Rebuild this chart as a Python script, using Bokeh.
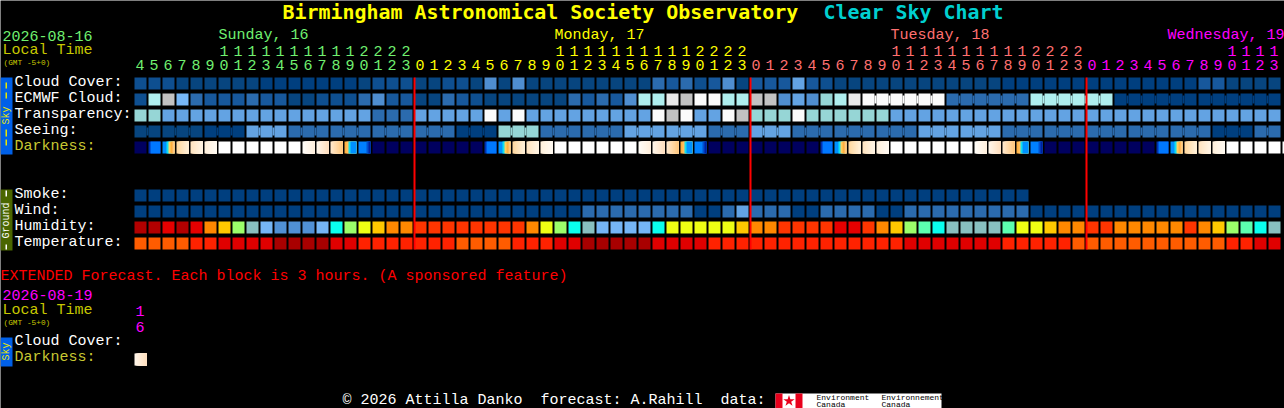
import math
from bokeh.plotting import figure
from bokeh.models import Range1d
from bokeh.core.properties import value
from bokeh.embed import file_html
from bokeh.resources import INLINE

W, H = 1284, 408
FONT = "Liberation Mono"
TITLE_FONT = "DejaVu Sans Mono"

title_main = "Birmingham Astronomical Society Observatory"
title_chart = "Clear Sky Chart"
day_names = ["Sunday, 16", "Monday, 17", "Tuesday, 18", "Wednesday, 19"]
day_colors = ["#70f070", "#ffff00", "#ff7070", "#ff00ff"]
day_lengths = [20, 24, 24, 14]
day_first_hour = [4, 0, 0, 0]
row_labels_sky = ["Cloud Cover:", "ECMWF Cloud:", "Transparency:", "Seeing:"]
row_labels_ground = ["Smoke:", "Wind:", "Humidity:", "Temperature:"]

sky_colors = ["#003f7f", "#07457f", "#0e4f90", "#17589c", "#2b6bae", "#4f8ed0", "#63a3e3", "#77b7f7",
              "#96d6d6", "#afeeee", "#c2c2c2", "#e9e9e9", "#fbfbfb"]
humidity_colors = ["#b20000", "#e60000", "#ff3500", "#ff8800", "#ffc800", "#eeff14", "#9bff6a", "#5cffb0",
                   "#0affee", "#88c0c0", "#75b5f5", "#5090d5"]
temp_colors = ["#ff5c00", "#ff2200", "#e00000", "#a80000"]

cloud_cover = [2, 2, 2, 1, 1, 1, 1, 1, 1, 0, 0, 0, 0, 0, 0, 0, 1, 2, 2, 2,
               1, 1, 2, 2, 1, 5, 1, 5, 1, 1, 1, 1, 1, 1, 1, 1, 1, 4, 3, 4, 2, 3, 5, 1,
               3, 3, 3, 6, 3, 2, 1, 1,
               1, 1, 1, 1, 1, 1, 1, 1, 1, 1, 0, 0, 0, 0, 0, 0, 0, 0, 0, 0, 0, 0, 0, 0,
               3, 3, 1, 1, 1, 1]
ecmwf_cloud = [2, 9, 10, 7, 4, 3, 3, 3, 4, 3, 3, 1, 1, 2, 2, 2, 4, 5, 3, 3,
               1, 1, 4, 3, 2, 1, 1, 1, 1, 1, 1, 4, 3, 4, 3, 5, 9, 9, 11, 10, 12, 12, 9, 9,
               10, 10, 5, 6, 5, 8, 9, 11,
               12, 12, 12, 12, 12, 12, 4, 4, 4, 4, 4, 4, 9, 9, 9, 9, 9, 9,
               0, 0, 0, 0, 0, 0, 0, 0, 0, 0, 0, 0]
ecmwf_groups = [1] * 52 + [6, 6, 6, 6, 6]
transparency = [8, 8, 6, 6, 6, 6, 6, 6, 6, 6, 6, 6, 6, 6, 6, 6, 6, 4, 4, 4,
                6, 6, 6, 6, 6, 12, 6, 12, 6, 6, 6, 6, 6, 6, 6, 6, 6, 12, 10, 12, 6, 6, 12, 10,
                8, 8, 8, 12, 8, 8, 8, 8,
                8, 8, 6, 6, 6, 6, 6, 6, 6, 6, 6, 6, 6, 6, 6, 6, 6, 6, 6, 6, 6, 6, 6, 6, 6, 6, 6, 6, 6, 6]
seeing_blocks = [1, 1, 0, 6, 4, 4, 4, 4, 0, 8, 4, 4, 6, 6, 4, 6, 4, 4, 4, 6, 6, 4, 4, 4, 4, 4, 0, 4]
seeing_groups = [2] + [3] * 26 + [2]
darkness = ["n", "a", "b", "c", "d", "e", "w", "w", "w", "w", "w", "w", "f", "g", "h", "i", "j", "n", "n", "n",
            "n", "n", "n", "n", "n", "a", "b", "c", "d", "e", "w", "w", "w", "w", "w", "w", "f", "g", "h", "i", "j", "n", "n", "n",
            "n", "n", "n", "n", "n", "a", "b", "c", "d", "e", "w", "w", "w", "w", "w", "w", "f", "g", "h", "i", "j", "n", "n", "n",
            "n", "n", "n", "n", "n", "a", "b", "c", "d", "e", "w", "w", "w", "w", "w", "w"]
darkness_extended = ["g"]
smoke = [0] * 64
wind = [0] * 32 + [4, 4, 4, 4, 4, 4, 4, 4, 0, 0, 4, 6, 4, 4, 4, 0, 0, 4, 4, 4, 4, 0, 0,
                   4, 4, 4, 4, 4, 4, 4, 4, 4] + [0] * 18
humidity = [0, 0, 1, 0, 1, 3, 4, 6, 9, 10, 11, 11, 11, 10, 8, 6, 5, 4, 3, 3,
            2, 2, 2, 2, 2, 2, 2, 2, 3, 5, 6, 8, 9, 10, 10, 10, 10, 8, 5, 5, 5, 5, 5, 4,
            3, 3, 2, 2, 2, 2, 1, 1,
            2, 3, 4, 6, 7, 8, 9, 9, 9, 9, 7, 5, 5, 4, 3, 3,
            2, 2, 3, 3, 3, 3, 3, 2, 3, 4, 6, 7, 8, 9]
temperature = [0, 0, 0, 0, 1, 1, 2, 2, 2, 2, 3, 3, 3, 3, 2, 2, 1, 1, 1, 1,
               1, 1, 1, 0, 0, 0, 0, 1, 1, 1, 2, 2, 3, 3, 3, 3, 3, 2, 2, 2, 2, 1, 1, 1,
               1, 1, 1, 1, 1, 1, 1, 1,
               1, 1, 1, 2, 2, 2, 2, 2, 2, 2, 1, 1, 1, 1, 1,
               0, 0, 0, 0, 0, 0, 0, 0, 0, 0, 0,
               1, 1, 2, 2]

# Each darkness block is a 12-slice strip: (colour, slices) runs or (from, to) fades.
dark_runs = {
    "n": [("#00005f", 12)],
    "w": [("#ffffff", 12)],
    "a": [("#0030b0", 2), ("#0078ff", 10)],
    "b": [("#0090ff", 4), ("#10e0f0", 2), ("#ffd060", 2), ("#ffb040", 2), ("#ffc070", 1), ("#ffd090", 1)],
    "i": [("#ffb040", 2), ("#ffc060", 2), ("#10e0f0", 2), ("#0090ff", 6)],
    "j": [("#0080ff", 8), ("#0050d0", 2), ("#0020a0", 2)],
}
dark_fades = {
    "c": ("#ffd8a0", "#fff0d8"), "d": ("#ffe4c0", "#fff4e4"), "e": ("#fff0dc", "#fffaf2"),
    "f": ("#fffdf8", "#fff0de"), "g": ("#fff6ea", "#ffe0c0"), "h": ("#ffe8cc", "#ffc880"),
}

CELL, PITCH, X0 = 12, 14, 134


def mix(a, b, t):
    ca = [int(a[i:i + 2], 16) for i in (1, 3, 5)]
    cb = [int(b[i:i + 2], 16) for i in (1, 3, 5)]
    return "#%02x%02x%02x" % tuple(round(p + (q - p) * t) for p, q in zip(ca, cb))


def strip(code):
    if code in dark_fades:
        a, b = dark_fades[code]
        return [(mix(a, b, i / 11), 1) for i in range(12)]
    return dark_runs[code]


p = figure(width=W, height=H, x_range=Range1d(0, W), y_range=Range1d(H, 0),
           output_backend="svg", toolbar_location=None, min_border=0,
           x_axis_location=None, y_axis_location=None,
           background_fill_color="black", border_fill_color="black",
           outline_line_color=None)
p.xgrid.visible = False
p.ygrid.visible = False


def boxes(l, r, t, b, c):
    p.quad(left=l, right=r, top=t, bottom=b, fill_color=c, line_color=None)


def row(vals, palette, y, groups=None):
    l = [X0 + PITCH * i for i in range(len(vals))]
    boxes(l, [v + CELL for v in l], [y] * len(l), [y + CELL] * len(l), [palette[v] for v in vals])
    if groups:
        bl, br, bc, i = [], [], [], 0
        for g in groups:
            for k in range(i, i + g - 1):
                bl.append(l[k] + CELL)
                br.append(l[k + 1])
                bc.append(palette[vals[k]])
            i += g
        if bl:
            boxes(bl, br, [y + 2] * len(bl), [y + 10] * len(bl), bc)


def darkrow(codes, y):
    l, r, c = [], [], []
    for i, code in enumerate(codes):
        cell = X0 + PITCH * i
        j = 0
        for col, n in strip(code):
            # every slice runs on to the block's right edge, the next one paints over it
            l.append(cell + j)
            r.append(cell + CELL)
            c.append(col)
            j += n
    boxes(l, r, [y] * len(l), [y + CELL] * len(l), c)


def text(x, y, s, color, size=15, style="normal", angle=0, align="left", font=FONT):
    p.text(x=[x], y=[y], text=[s], text_color=color, text_font=value(font), text_font_size=f"{size}px",
           text_font_style=style, text_baseline="middle", text_align=align, angle=angle)


row(cloud_cover, sky_colors, 77)
row(ecmwf_cloud, sky_colors, 93, ecmwf_groups)
row(transparency, sky_colors, 109)
seeing = []
for v, g in zip(seeing_blocks, seeing_groups):
    seeing += [v] * g
row(seeing, sky_colors, 125, seeing_groups)
darkrow(darkness, 141)
row(smoke, sky_colors, 189)
row(wind, sky_colors, 205)
row(humidity, humidity_colors, 221)
row(temperature, temp_colors, 237)
darkrow(darkness_extended, 353)

# day boundaries
i = 0
ends = []
for n in day_lengths[:-1]:
    i += n
    ends.append(X0 + PITCH * i)
boxes([e - 1 for e in ends], [e + 1 for e in ends], [77] * 3, [249] * 3, ["#ff0000"] * 3)

# title
text(282, 11.5, title_main, "#ffff00", 19.93, "bold", font=TITLE_FONT)
text(823, 11.5, title_chart, "#00d0d0", 19.93, "bold", font=TITLE_FONT)

# date header
text(2, 35, "2026-08-16", day_colors[0])
text(2, 50, "Local Time", "#c8c800")
text(3, 62, "(GMT -5+0)", "#c8c800", 7.8)
for name, c, x in zip(day_names, day_colors, [218, 554, 890, 1167]):
    text(x, 35, name, c)

i = 0
for n, h0, c in zip(day_lengths, day_first_hour, day_colors):
    for k in range(n):
        h = h0 + k
        x = X0 + PITCH * i + 5.5
        if h >= 10:
            text(x, 50, str(h // 10), c, align="center")
        text(x, 64, str(h % 10), c, align="center")
        i += 1

# row labels
for y, s in zip([82, 98, 114, 130], row_labels_sky):
    text(14, y, s, "#ffffff")
text(14, 146, "Darkness:", "#c8c832")
for y, s in zip([194, 210, 226, 242], row_labels_ground):
    text(14, y, s, "#ffffff")

# side tabs
boxes([0, 0, 0], [12, 12, 12], [77, 189, 337], [154, 250, 366], ["#0060e8", "#4a6600", "#0060e8"])
text(6, 115, "Sky", "#e8e800", 10, angle=math.pi / 2, align="center")
boxes([5, 5, 5, 5], [6.5, 6.5, 6.5, 6.5], [82, 92, 129, 139], [88, 98, 136, 145], ["#e8e800"] * 4)
text(6, 220, "Ground", "#ffffff", 10, angle=math.pi / 2, align="center")
boxes([5, 5], [6.5, 6.5], [190, 244], [196, 249], ["#ffffff"] * 2)
text(6, 351, "Sky", "#e8e800", 10, angle=math.pi / 2, align="center")

# extended block
text(0, 276, "EXTENDED Forecast. Each block is 3 hours. (A sponsored feature)", "#ff0000")
text(2, 294, "2026-08-19", "#ff00ff")
text(2, 310, "Local Time", "#c8c800")
text(3, 322, "(GMT -5+0)", "#c8c800", 7.8)
text(139.5, 310, "1", "#ff00ff", align="center")
text(139.5, 326, "6", "#ff00ff", align="center")
text(14, 341, "Cloud Cover:", "#ffffff")
text(14, 357, "Darkness:", "#c8c832")

# footer
text(342, 400, "\u00a9 2026 Attilla Danko", "#ffffff")
text(540, 400, "forecast: A.Rahill", "#ffffff")
text(720, 400, "data:", "#ffffff")
boxes([775, 775, 795], [941, 782, 802], [393, 393, 393], [408, 408, 408], ["#ffffff", "#e8001c", "#e8001c"])
p.scatter(x=[788.5], y=[400.5], size=12, marker="star", fill_color="#e8001c", line_color=None)
text(816, 397, "Environment", "#000000", 8)
text(816, 404, "Canada", "#000000", 8)
text(881, 397, "Environnement", "#000000", 8)
text(881, 404, "Canada", "#000000", 8)

open("out.html", "w").write(file_html(p, INLINE))
